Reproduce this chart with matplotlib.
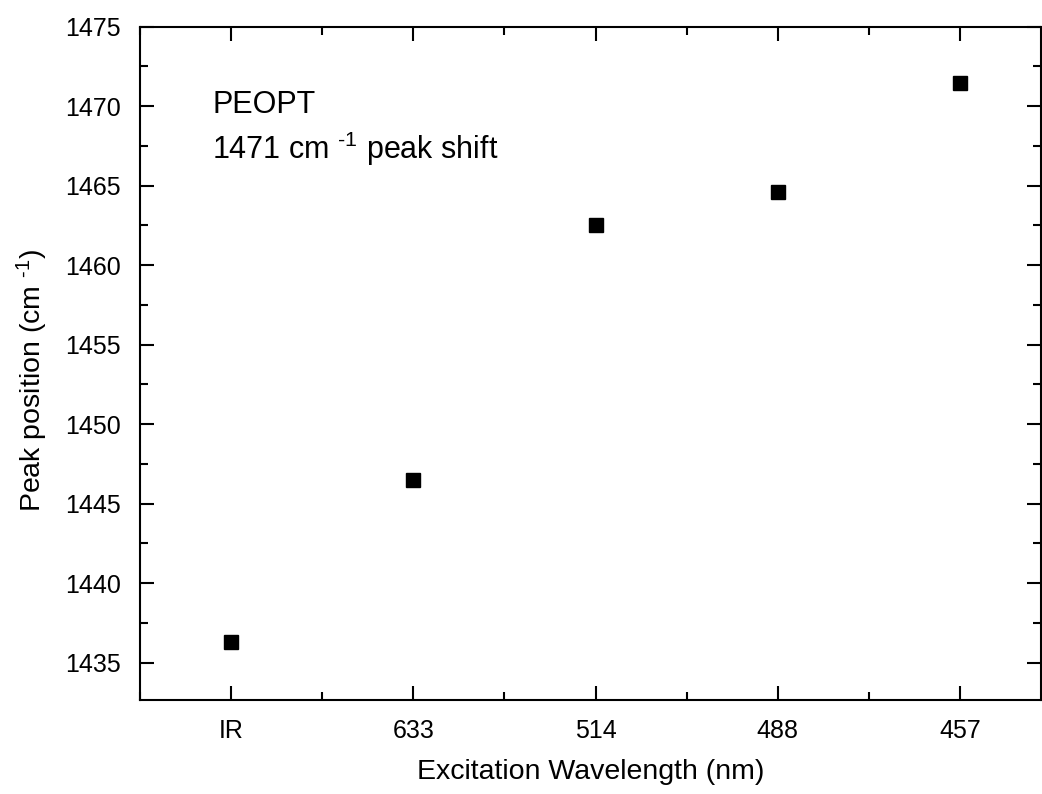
import matplotlib
matplotlib.use("Agg")
import matplotlib.pyplot as plt
from matplotlib.ticker import MultipleLocator

# DATOS
wavelengths = ["IR", "633", "514", "488", "457"]
peak_pos = [1436.3, 1446.5, 1462.5, 1464.6, 1471.45]

plt.rcParams["font.family"] = ["Liberation Sans", "DejaVu Sans"]
plt.rcParams["mathtext.fontset"] = "custom"
plt.rcParams["mathtext.rm"] = "Liberation Sans"
plt.rcParams["mathtext.it"] = "Liberation Sans:italic"
plt.rcParams["mathtext.bf"] = "Liberation Sans:bold"

fig = plt.figure(figsize=(10.42, 7.94), dpi=100)
ax = fig.add_axes([140 / 1042, 1 - 700 / 794, 901 / 1042, 673.5 / 794])

x = list(range(1, len(wavelengths) + 1))
ax.plot(x, peak_pos, linestyle="none", marker="s", markersize=9.5, color="black")

ax.set_xlim(0.5, 5.445)
ax.set_ylim(1432.65, 1475)
ax.set_xticks(x)
ax.set_xticklabels(wavelengths)
ax.xaxis.set_minor_locator(MultipleLocator(0.5))
ax.yaxis.set_major_locator(MultipleLocator(5))
ax.yaxis.set_minor_locator(MultipleLocator(2.5))

for s in ax.spines.values():
    s.set_linewidth(1.5)
ax.tick_params(which="both", direction="in", top=True, right=True, width=1.5, labelsize=18)
ax.tick_params(which="major", length=10, pad=14)
ax.tick_params(which="minor", length=5.5)

ax.set_xlabel("Excitation Wavelength (nm)", fontsize=20.5)
ax.set_ylabel(r"Peak position (cm $^{\text{-1}}$)", fontsize=20.5)
ax.xaxis.set_label_coords(0.5, -0.087)
ax.yaxis.set_label_coords(-0.0995, 0.474)

ax.text(0.08, 0.872, "PEOPT", transform=ax.transAxes, fontsize=22)
ax.text(0.08, 0.803, r"1471 cm $^{\text{-1}}$ peak shift", transform=ax.transAxes, fontsize=22)

fig.savefig("out.png", dpi=100)
